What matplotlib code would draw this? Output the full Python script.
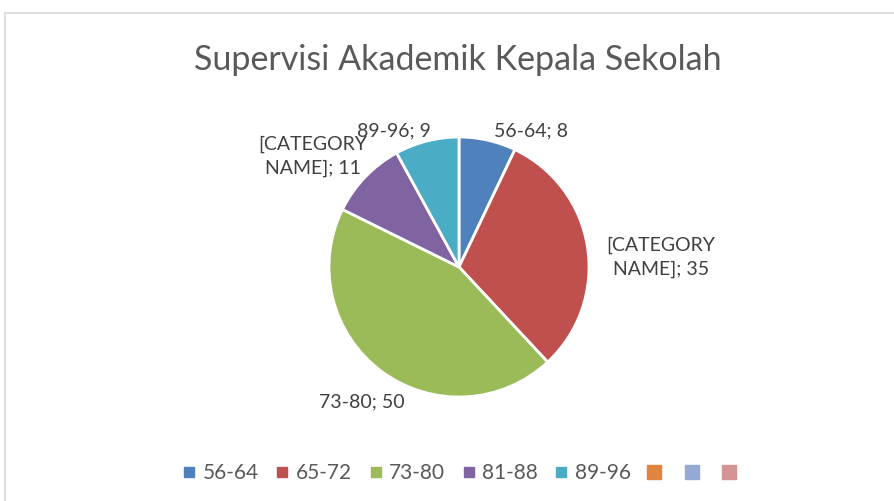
import matplotlib.pyplot as plt
from matplotlib.lines import Line2D
from matplotlib.patches import Rectangle

plt.rcParams['font.family'] = ['Lato', 'DejaVu Sans']

kategori = ['56-64', '65-72', '73-80', '81-88', '89-96']
nilai = [8, 35, 50, 11, 9]
warna = ['#4F81BD', '#C0504D', '#9BBB59', '#8064A2', '#4BACC6']
# legenda excel ikut menampilkan seri kosong
warna_kosong = ['#E0843E', '#94AAD3', '#D49494']

label_teks = ['56-64; 8', '[CATEGORY\nNAME]; 35', '73-80; 50',
              '[CATEGORY\nNAME]; 11', '89-96; 9']
# posisi label dalam piksel (x, y dari atas)
label_pos = [(531, 131), (661, 257), (362, 402), (313, 156), (394, 131)]

W, H = 894, 501
fig = plt.figure(figsize=(W / 100, H / 100), dpi=100)

# bingkai grafik
fig.patches.append(Rectangle((5 / W, -0.1), 1.2, (H - 13) / H + 0.1,
                             transform=fig.transFigure, fill=False,
                             edgecolor='#D9D9D9', linewidth=1.2))

cx, cy, r = 459, 267, 130
ax = fig.add_axes([(cx - r) / W, (H - cy - r) / H, 2 * r / W, 2 * r / H])
ax.pie(nilai, colors=warna, startangle=90, counterclock=False, radius=1,
       wedgeprops=dict(edgecolor='white', linewidth=2))
ax.set_xlim(-1, 1)
ax.set_ylim(-1, 1)
ax.set_aspect('equal')
ax.axis('off')

fig.text(457.5 / W, 1 - 60 / H, 'Supervisi Akademik Kepala Sekolah',
         ha='center', va='center', fontsize=24.5, color='#595959')

for teks, (x, y) in zip(label_teks, label_pos):
    fig.text(x / W, 1 - y / H, teks, ha='center', va='center', fontsize=14,
             color='#404040', linespacing=1.45)

handles = [Line2D([], [], marker='s', linestyle='none', color=c, markersize=6.5)
           for c in warna]
handles += [Line2D([], [], marker='s', linestyle='none', color=c, markersize=10)
            for c in warna_kosong]
labels = kategori + ['', '', '']
fig.legend(handles, labels, loc='center', bbox_to_anchor=(462 / W, 1 - 473 / H),
           ncol=8, frameon=False, fontsize=15, handletextpad=0.3,
           columnspacing=0.78, handlelength=0.7, labelcolor='#595959')

fig.savefig('out.png', dpi=100)
